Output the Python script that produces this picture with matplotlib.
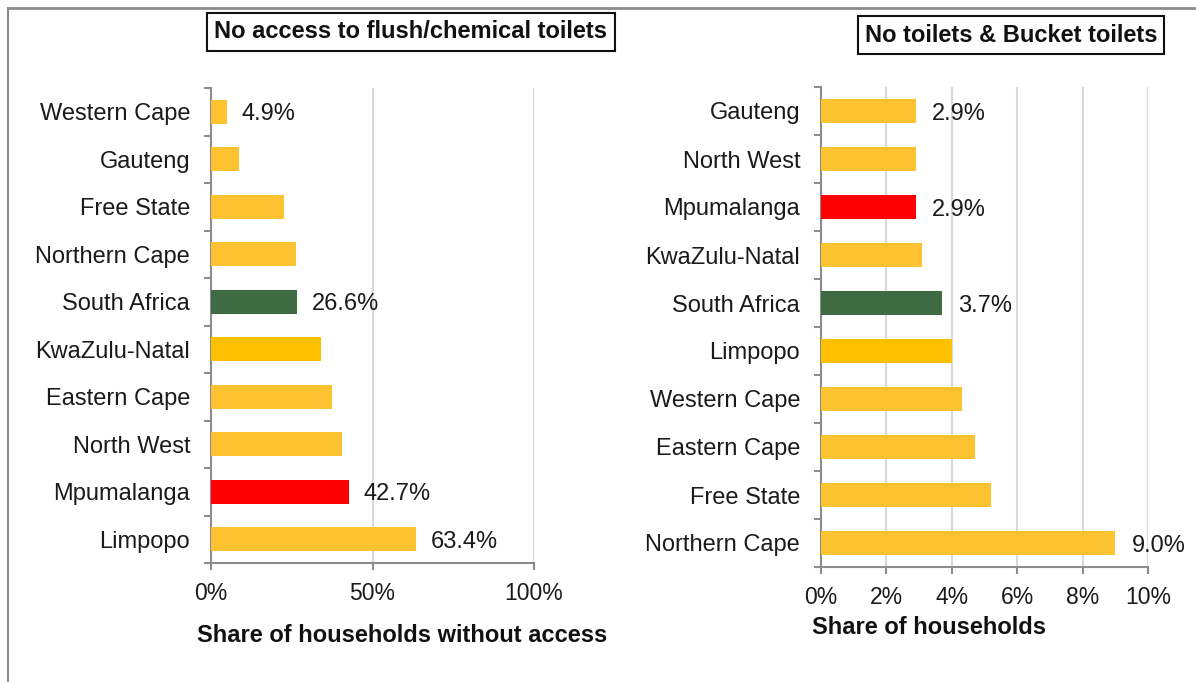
import matplotlib.pyplot as plt
from matplotlib.lines import Line2D
from matplotlib.ticker import FuncFormatter, FixedLocator

plt.rcParams['font.family'] = ['Liberation Sans', 'DejaVu Sans']

# left panel: no access to flush/chemical toilets (%)
left_provinces = ['Western Cape', 'Gauteng', 'Free State', 'Northern Cape', 'South Africa',
                  'KwaZulu-Natal', 'Eastern Cape', 'North West', 'Mpumalanga', 'Limpopo']
left_values = [4.9, 8.7, 22.7, 26.2, 26.6, 34.2, 37.5, 40.7, 42.7, 63.4]
left_labelled = ['Western Cape', 'South Africa', 'Mpumalanga', 'Limpopo']

# right panel: no toilets & bucket toilets (%)
right_provinces = ['Gauteng', 'North West', 'Mpumalanga', 'KwaZulu-Natal', 'South Africa',
                   'Limpopo', 'Western Cape', 'Eastern Cape', 'Free State', 'Northern Cape']
right_values = [2.9, 2.9, 2.9, 3.1, 3.7, 4.0, 4.3, 4.7, 5.2, 9.0]
right_labelled = ['Gauteng', 'Mpumalanga', 'South Africa', 'Northern Cape']

YELLOW = '#FDC22F'
GOLD = '#FFC000'
GREEN = '#3E6B41'
RED = '#FF0000'


def bar_colors(provs, gold):
    out = []
    for p in provs:
        if p == 'South Africa':
            out.append(GREEN)
        elif p == 'Mpumalanga':
            out.append(RED)
        elif p == gold:
            out.append(GOLD)
        else:
            out.append(YELLOW)
    return out


fig = plt.figure(figsize=(11.96, 6.82), dpi=100)

# outer frame (top and left edge)
fig.add_artist(Line2D([8 / 1196, 1], [1 - 8 / 682, 1 - 8 / 682], color='#8c8c8c', lw=2))
fig.add_artist(Line2D([8 / 1196, 8 / 1196], [0, 1 - 8 / 682], color='#8c8c8c', lw=1.5))

ax1 = fig.add_axes([211 / 1196, 1 - 563 / 682, 323 / 1196, 475 / 682])
ax2 = fig.add_axes([821 / 1196, 1 - 567 / 682, 327 / 1196, 480 / 682])

FS = 17


def style(ax, provs, vals, labelled, gold, xmax, xticks, lab_off):
    n = len(provs)
    ax.barh(range(n), vals, height=0.5, color=bar_colors(provs, gold), zorder=3)
    ax.set_ylim(n - 0.5, -0.5)
    ax.set_xlim(0, xmax)
    ax.set_yticks(range(n))
    ax.set_yticklabels(provs)
    ax.yaxis.set_minor_locator(FixedLocator([i - 0.5 for i in range(n + 1)]))
    ax.tick_params(axis='y', which='major', length=0, pad=15, labelsize=FS, labelcolor='#1a1a1a')
    ax.tick_params(axis='y', which='minor', length=5, color='#8c8c8c', width=1.5)
    ax.set_xticks(xticks)
    ax.xaxis.set_major_formatter(FuncFormatter(lambda x, p: f'{x:.0f}%'))
    ax.tick_params(axis='x', length=5, color='#8c8c8c', width=1.5, pad=9, labelsize=FS - 0.5,
                   labelcolor='#1a1a1a')
    ax.grid(axis='x', color='#d9d9d9', lw=1.5, zorder=0)
    for s in ('top', 'right'):
        ax.spines[s].set_visible(False)
    for s in ('left', 'bottom'):
        ax.spines[s].set_color('#8c8c8c')
        ax.spines[s].set_linewidth(1.5)
    for i, (p, v) in enumerate(zip(provs, vals)):
        if p in labelled:
            ax.text(v + lab_off, i, f'{v:.1f}%', va='center_baseline', ha='left', fontsize=FS,
                    color='#1a1a1a', clip_on=False, zorder=4)


style(ax1, left_provinces, left_values, left_labelled, 'KwaZulu-Natal', 100, [0, 50, 100], 4.6)
style(ax2, right_provinces, right_values, right_labelled, 'Limpopo', 10, [0, 2, 4, 6, 8, 10], 0.5)

bold = dict(fontsize=FS, fontweight='bold', color='#111111')
fig.text(411 / 1196, 1 - 32 / 682, 'No access to flush/chemical toilets', ha='center', va='center',
         bbox=dict(boxstyle='square,pad=0.3', fc='white', ec='#111111', lw=1.5), **bold)
fig.text(1011 / 1196, 1 - 35 / 682, 'No toilets & Bucket toilets', ha='center', va='center',
         bbox=dict(boxstyle='square,pad=0.3', fc='white', ec='#111111', lw=1.5), **bold)

fig.text(402 / 1196, 1 - 635 / 682, 'Share of households without access', ha='center', va='center', **bold)
fig.text(929 / 1196, 1 - 628 / 682, 'Share of households', ha='center', va='center', **bold)

fig.savefig('out.png', dpi=100)
